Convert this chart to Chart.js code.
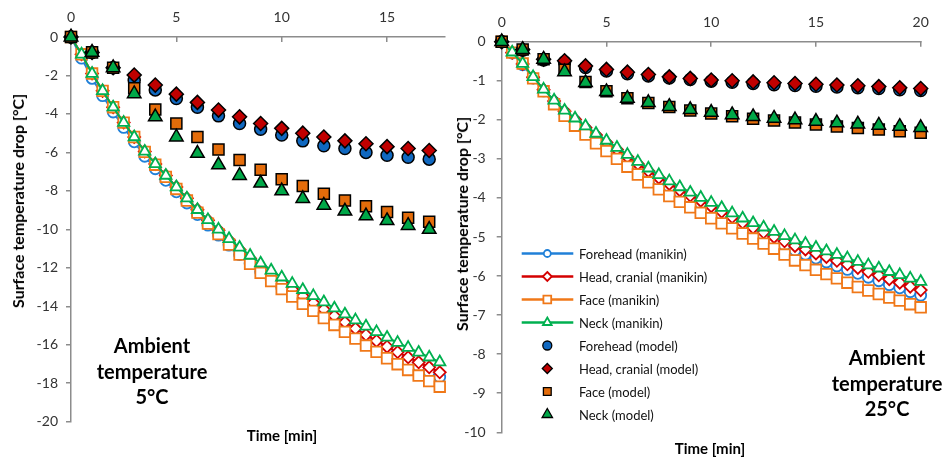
<!DOCTYPE html>
<html>
<head>
<meta charset="utf-8">
<script src="https://cdn.jsdelivr.net/npm/chart.js@4.4.0/dist/chart.umd.min.js"></script>
<style>
  body { margin: 0; background: #fff; width: 946px; height: 457px; overflow: hidden; position: relative; font-family: Lato, sans-serif; }
  .panel { position: absolute; top: 0; }
  .txt { position: absolute; white-space: nowrap; color: #000; }
  .ytitle { font-weight: bold; font-size: 16px; line-height: 1; transform: translate(-50%, -50%) rotate(-90deg); }
  .xtitle { font-weight: bold; font-size: 15px; line-height: 1; transform: translate(-50%, -50%); }
  .note { font-weight: bold; font-size: 20px; line-height: 25.5px; text-align: center; transform: translateX(-50%); }
  .leg { font-size: 13px; line-height: 16px; color: #111; }
</style>
</head>
<body>
<div class="panel" style="left:0;width:460px;height:457px"><canvas id="left" width="460" height="457"></canvas></div>
<div class="panel" style="left:460px;width:486px;height:457px"><canvas id="right" width="486" height="457"></canvas></div>

<div class="txt ytitle" style="left:18px;top:201px">Surface temperature drop [°C]</div>
<div class="txt ytitle" style="left:462px;top:224px">Surface temperature drop [°C]</div>
<div class="txt xtitle" style="left:282px;top:435px">Time [min]</div>
<div class="txt xtitle" style="left:710px;top:448px">Time [min]</div>
<div class="txt note" style="left:152px;top:333px">Ambient<br>temperature<br>5°C</div>
<div class="txt note" style="left:887px;top:345px">Ambient<br>temperature<br>25°C</div>
<div id="legendText"></div>

<script>
// ---- data ----
const leftXTicks = [0, 5, 10, 15];
const leftYTicks = [0, -2, -4, -6, -8, -10, -12, -14, -16, -18, -20];
const rightXTicks = [0, 5, 10, 15, 20];
const rightYTicks = [0, -1, -2, -3, -4, -5, -6, -7, -8, -9, -10];

const legendLabels = [
  "Forehead (manikin)", "Head, cranial (manikin)", "Face (manikin)", "Neck  (manikin)",
  "Forehead (model)", "Head, cranial (model)", "Face (model)", "Neck  (model)",
];

// ambient 5 °C
const leftManikinTime = [0, 0.5, 1, 1.5, 2, 2.5, 3, 3.5, 4, 4.5, 5, 5.5, 6, 6.5, 7, 7.5, 8, 8.5, 9, 9.5,
  10, 10.5, 11, 11.5, 12, 12.5, 13, 13.5, 14, 14.5, 15, 15.5, 16, 16.5, 17, 17.5];
const leftForeheadManikin = [0, -1.1, -2.15, -3.05, -3.9, -4.7, -5.45, -6.2, -6.85, -7.45,
  -8.05, -8.63, -9.23, -9.78, -10.3, -10.82, -11.31, -11.77, -12.21, -12.62,
  -13.01, -13.37, -13.72, -14.07, -14.41, -14.75, -15.08, -15.41, -15.74, -16.05,
  -16.35, -16.63, -16.9, -17.16, -17.42, -17.68];
const leftHeadManikin = [0, -0.9, -1.9, -2.8, -3.65, -4.45, -5.2, -5.95, -6.6, -7.2,
  -7.8, -8.38, -8.98, -9.53, -10.05, -10.57, -11.06, -11.52, -11.96, -12.37,
  -12.76, -13.12, -13.47, -13.82, -14.16, -14.5, -14.83, -15.16, -15.49, -15.8,
  -16.1, -16.38, -16.65, -16.91, -17.17, -17.43];
const leftFaceManikin = [0, -0.9, -1.9, -2.8, -3.65, -4.45, -5.2, -5.97, -6.64, -7.27,
  -7.9, -8.5, -9.13, -9.7, -10.25, -10.79, -11.31, -11.79, -12.26, -12.69,
  -13.11, -13.49, -13.87, -14.24, -14.61, -14.97, -15.33, -15.68, -16.04, -16.37,
  -16.7, -17.01, -17.31, -17.6, -17.89, -18.18];
const leftNeckManikin = [0, -0.9, -1.9, -2.8, -3.65, -4.45, -5.2, -5.95, -6.6, -7.2,
  -7.8, -8.38, -8.98, -9.51, -10.0, -10.49, -10.94, -11.36, -11.76, -12.13,
  -12.49, -12.82, -13.14, -13.46, -13.78, -14.1, -14.41, -14.72, -15.04, -15.33,
  -15.62, -15.89, -16.15, -16.4, -16.65, -16.9];

const leftModelTime = [0, 1, 2, 3, 4, 5, 6, 7, 8, 9, 10, 11, 12, 13, 14, 15, 16, 17];
const leftForeheadModel = [0, -0.8, -1.6, -2.25, -2.75, -3.2, -3.65, -4.1, -4.5, -4.8, -5.1, -5.4, -5.65, -5.8, -6.0, -6.15, -6.25, -6.35];
const leftHeadModel = [0, -0.8, -1.6, -1.98, -2.5, -2.97, -3.4, -3.8, -4.15, -4.5, -4.75, -5.0, -5.2, -5.4, -5.55, -5.7, -5.8, -5.9];
const leftFaceModel = [0, -0.8, -1.6, -2.67, -3.77, -4.5, -5.2, -5.85, -6.4, -6.9, -7.4, -7.75, -8.15, -8.5, -8.8, -9.1, -9.4, -9.6];
const leftNeckModel = [0, -0.8, -1.6, -2.95, -4.15, -5.2, -6.05, -6.65, -7.2, -7.6, -8.0, -8.4, -8.75, -9.05, -9.3, -9.55, -9.8, -10.0];

// ambient 25 °C
const rightManikinTime = [0, 0.5, 1, 1.5, 2, 2.5, 3, 3.5, 4, 4.5, 5, 5.5, 6, 6.5, 7, 7.5, 8, 8.5, 9, 9.5,
  10, 10.5, 11, 11.5, 12, 12.5, 13, 13.5, 14, 14.5, 15, 15.5, 16, 16.5, 17, 17.5, 18, 18.5, 19, 19.5, 20];
const rightForeheadManikin = [0, -0.29, -0.59, -0.93, -1.26, -1.55, -1.82, -2.03, -2.24, -2.44,
  -2.63, -2.82, -3.01, -3.19, -3.37, -3.55, -3.72, -3.87, -4.02, -4.16,
  -4.3, -4.44, -4.59, -4.73, -4.86, -4.98, -5.1, -5.22, -5.34, -5.44,
  -5.54, -5.64, -5.74, -5.83, -5.93, -6.03, -6.12, -6.22, -6.3, -6.4, -6.49];
const rightHeadManikin = [0, -0.28, -0.57, -0.91, -1.23, -1.52, -1.78, -1.99, -2.2, -2.39,
  -2.58, -2.76, -2.95, -3.13, -3.31, -3.48, -3.64, -3.8, -3.94, -4.07,
  -4.21, -4.35, -4.49, -4.63, -4.76, -4.88, -5.0, -5.11, -5.23, -5.32,
  -5.42, -5.51, -5.61, -5.7, -5.79, -5.89, -5.98, -6.08, -6.17, -6.27, -6.36];
const rightFaceManikin = [0, -0.28, -0.56, -0.94, -1.27, -1.6, -1.9, -2.15, -2.38, -2.6,
  -2.8, -3.0, -3.2, -3.4, -3.6, -3.78, -3.95, -4.1, -4.24, -4.38,
  -4.52, -4.65, -4.78, -4.91, -5.04, -5.17, -5.3, -5.45, -5.6, -5.72,
  -5.84, -5.95, -6.06, -6.17, -6.28, -6.37, -6.46, -6.55, -6.63, -6.72, -6.8];
const rightNeckManikin = [0, -0.27, -0.56, -0.9, -1.22, -1.5, -1.76, -1.96, -2.16, -2.35,
  -2.53, -2.71, -2.89, -3.07, -3.24, -3.41, -3.57, -3.72, -3.86, -3.99,
  -4.12, -4.25, -4.39, -4.52, -4.64, -4.75, -4.86, -4.97, -5.08, -5.17,
  -5.27, -5.36, -5.45, -5.54, -5.63, -5.72, -5.8, -5.89, -5.97, -6.06, -6.14];

const rightModelTime = [0, 1, 2, 3, 4, 5, 6, 7, 8, 9, 10, 11, 12, 13, 14, 15, 16, 17, 18, 19, 20];
const rightForeheadModel = [0, -0.22, -0.47, -0.52, -0.66, -0.75, -0.82, -0.88, -0.93, -0.97, -1.01, -1.04, -1.07, -1.1, -1.12, -1.14, -1.16, -1.18, -1.2, -1.23, -1.25];
const rightHeadModel = [0, -0.2, -0.45, -0.49, -0.62, -0.71, -0.78, -0.84, -0.9, -0.94, -0.98, -1.0, -1.03, -1.05, -1.07, -1.09, -1.11, -1.13, -1.15, -1.18, -1.2];
const rightFaceModel = [0, -0.2, -0.45, -0.72, -1.03, -1.27, -1.45, -1.57, -1.67, -1.76, -1.84, -1.91, -1.97, -2.02, -2.07, -2.12, -2.17, -2.21, -2.25, -2.29, -2.33];
const rightNeckModel = [0, -0.2, -0.45, -0.77, -1.05, -1.28, -1.45, -1.56, -1.66, -1.74, -1.81, -1.87, -1.92, -1.96, -2.0, -2.04, -2.08, -2.11, -2.14, -2.17, -2.2];

// ---- styles ----
const lineColors = ["#2080d8", "#d40000", "#f07818", "#00b050"];
const modelColors = ["#1068c0", "#c00000", "#e46c0a", "#00a848"];
const shapes = ["circle", "rectRot", "rect", "triangle"];
const manikinRadius = [5.5, 6, 7.5, 6.5];
const modelRadius = [6, 7, 7.8, 7.8];

const pts = (xs, ys) => xs.map((x, i) => ({ x: x, y: ys[i] }));

function buildDatasets(mTime, manikin, modelTime, model) {
  const sets = [];
  manikin.forEach((ys, i) => {
    sets.push({
      label: legendLabels[i],
      data: pts(mTime, ys),
      showLine: true,
      borderColor: lineColors[i],
      borderWidth: 2,
      backgroundColor: "#fff",
      pointStyle: shapes[i],
      pointRadius: manikinRadius[i],
      pointBorderWidth: 1.8,
      pointBorderColor: lineColors[i],
      pointBackgroundColor: "#fff",
      tension: 0,
      clip: false,
      order: 8 - i,
    });
  });
  model.forEach((ys, i) => {
    sets.push({
      label: legendLabels[i + 4],
      data: pts(modelTime, ys),
      showLine: false,
      pointStyle: shapes[i],
      pointRadius: modelRadius[i],
      pointBorderWidth: 1.5,
      pointBorderColor: "#000",
      pointBackgroundColor: modelColors[i],
      clip: false,
      order: 4 - i,
    });
  });
  return sets;
}

const tickFont = { family: "Lato", size: 14 };
const axisGray = "#8c8c8c";

function makeOptions(xMax, yMin, xTicks, yTicks, yWidth, xHeight, pad, yPad) {
  return {
    responsive: false,
    animation: false,
    layout: { padding: pad },
    plugins: { legend: { display: false }, tooltip: { enabled: false } },
    scales: {
      x: {
        type: "linear",
        position: "top",
        min: 0,
        max: xMax,
        afterBuildTicks: (s) => { s.ticks = xTicks.map((v) => ({ value: v })); },
        afterFit: (s) => { s.height = xHeight; },
        ticks: { font: tickFont, color: "#333", padding: 16, maxRotation: 0 },
        grid: { drawOnChartArea: false, drawTicks: true, tickLength: -5, color: axisGray, lineWidth: 1.5 },
        border: { display: true, color: axisGray, width: 1.5 },
      },
      y: {
        type: "linear",
        min: yMin,
        max: 0,
        afterBuildTicks: (s) => { s.ticks = yTicks.map((v) => ({ value: v })); },
        afterFit: (s) => { s.width = yWidth; },
        ticks: { font: tickFont, color: "#333", padding: yPad },
        grid: { drawOnChartArea: false, drawTicks: true, tickLength: 5, color: axisGray, lineWidth: 1.5 },
        border: { display: true, color: axisGray, width: 1.5 },
      },
    },
  };
}

// legend marker drawing
function drawMarker(ctx, shape, x, y, r, fill, stroke, lw) {
  ctx.beginPath();
  if (shape === "circle") {
    ctx.arc(x, y, r, 0, Math.PI * 2);
  } else if (shape === "rectRot") {
    ctx.moveTo(x, y - r); ctx.lineTo(x + r, y); ctx.lineTo(x, y + r); ctx.lineTo(x - r, y);
  } else if (shape === "rect") {
    const h = r * Math.SQRT1_2;
    ctx.rect(x - h, y - h, 2 * h, 2 * h);
  } else {
    ctx.moveTo(x, y - r);
    ctx.lineTo(x + r * Math.sin(Math.PI * 2 / 3), y - r * Math.cos(Math.PI * 2 / 3));
    ctx.lineTo(x + r * Math.sin(Math.PI * 4 / 3), y - r * Math.cos(Math.PI * 4 / 3));
  }
  ctx.closePath();
  ctx.fillStyle = fill;
  ctx.fill();
  ctx.lineWidth = lw;
  ctx.strokeStyle = stroke;
  ctx.stroke();
}

const legendTop = 253.5;
const legendStep = 23;
const legendX0 = 61.7, legendX1 = 113.3, legendMid = 87.3;
const legendManikinR = [3.5, 4.5, 5.5, 5];
const legendModelR = [4.5, 5, 5.5, 6];

const sideLegend = {
  id: "sideLegend",
  afterDatasetsDraw(chart) {
    const ctx = chart.ctx;
    ctx.save();
    for (let i = 0; i < 4; i++) {
      const y = legendTop + i * legendStep;
      ctx.beginPath();
      ctx.moveTo(legendX0, y);
      ctx.lineTo(legendX1, y);
      ctx.lineWidth = 2.5;
      ctx.strokeStyle = lineColors[i];
      ctx.stroke();
      drawMarker(ctx, shapes[i], legendMid, y, legendManikinR[i], "#fff", lineColors[i], 1.8);
    }
    for (let i = 0; i < 4; i++) {
      const y = legendTop + (i + 4) * legendStep;
      drawMarker(ctx, shapes[i], legendMid, y, legendModelR[i], modelColors[i], "#000", 1.3);
    }
    ctx.restore();
  },
};

const legendText = document.getElementById("legendText");
legendLabels.forEach((t, i) => {
  const d = document.createElement("div");
  d.className = "txt leg";
  d.style.left = "579px";
  d.style.top = (legendTop + i * legendStep - 8) + "px";
  d.innerText = t;
  legendText.appendChild(d);
});

new Chart(document.getElementById("left"), {
  type: "scatter",
  data: {
    datasets: buildDatasets(
      leftManikinTime,
      [leftForeheadManikin, leftHeadManikin, leftFaceManikin, leftNeckManikin],
      leftModelTime,
      [leftForeheadModel, leftHeadModel, leftFaceModel, leftNeckModel]
    ),
  },
  options: makeOptions(17.75, -20, leftXTicks, leftYTicks, 71, 37,
    { left: 0, top: 0, right: 15, bottom: 35.3 }, 8),
});

new Chart(document.getElementById("right"), {
  type: "scatter",
  data: {
    datasets: buildDatasets(
      rightManikinTime,
      [rightForeheadManikin, rightHeadManikin, rightFaceManikin, rightNeckManikin],
      rightModelTime,
      [rightForeheadModel, rightHeadModel, rightFaceModel, rightNeckModel]
    ),
  },
  options: makeOptions(20, -10, rightXTicks, rightYTicks, 41.7, 41.7,
    { left: 0, top: 0, right: 25.3, bottom: 24.7 }, 11),
  plugins: [sideLegend],
});
</script>
</body>
</html>
